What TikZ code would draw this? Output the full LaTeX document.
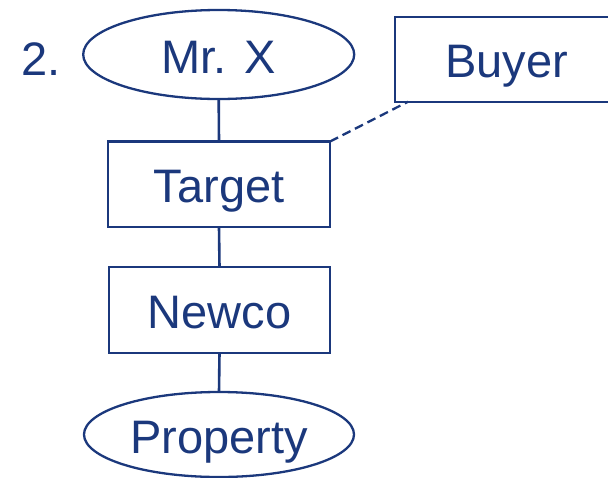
\documentclass[tikz,border=0pt]{standalone}
\usepackage{fontspec}
\setmainfont{Liberation Sans}
\usetikzlibrary{shapes.geometric}
\definecolor{navy}{RGB}{27,56,124}
\begin{document}
\begin{tikzpicture}[x=1pt,y=-1pt,
  every node/.style={text=navy,font=\fontsize{47}{50}\selectfont},
  entity/.style={draw=navy,line width=2.3pt,inner sep=0pt,outer sep=0pt,
    text height=37pt,text depth=0pt},
  oval/.style={entity,ellipse},
  box/.style={entity,rectangle},
  link/.style={draw=navy,line width=2.6pt},
  weaklink/.style={draw=navy,line width=2.3pt,dash pattern=on 9pt off 5pt}]
  \useasboundingbox (0,0) rectangle (608,477);

  % step label
  \node[anchor=base west,inner sep=0pt] (num) at (21,75) {2.};

  % ownership chain
  \node[oval,minimum width=271pt,minimum height=89pt] (mrx) at (218.7,54.5) {Mr. X};
  \node[box,minimum width=222pt,minimum height=85.5pt] (target) at (219,184.3) {Target};
  \node[box,minimum width=221pt,minimum height=85.5pt] (newco) at (219.5,310) {Newco};
  \node[oval,minimum width=270pt,minimum height=85pt] (property) at (219,434.5) {Property};

  % buyer, partly beyond the right edge
  \node[box,minimum width=223pt,minimum height=85pt] (buyer) at (506.5,59.2) {Buyer};
  \coordinate (buyerfoot) at ([xshift=13pt]buyer.south west);

  \draw[link] (mrx.south) -- (target.north);
  \draw[link] (target.south) -- (newco.north);
  \draw[link] (newco.south) -- (property.north);
  \draw[weaklink] (target.north east) -- (buyerfoot);
\end{tikzpicture}
\end{document}
